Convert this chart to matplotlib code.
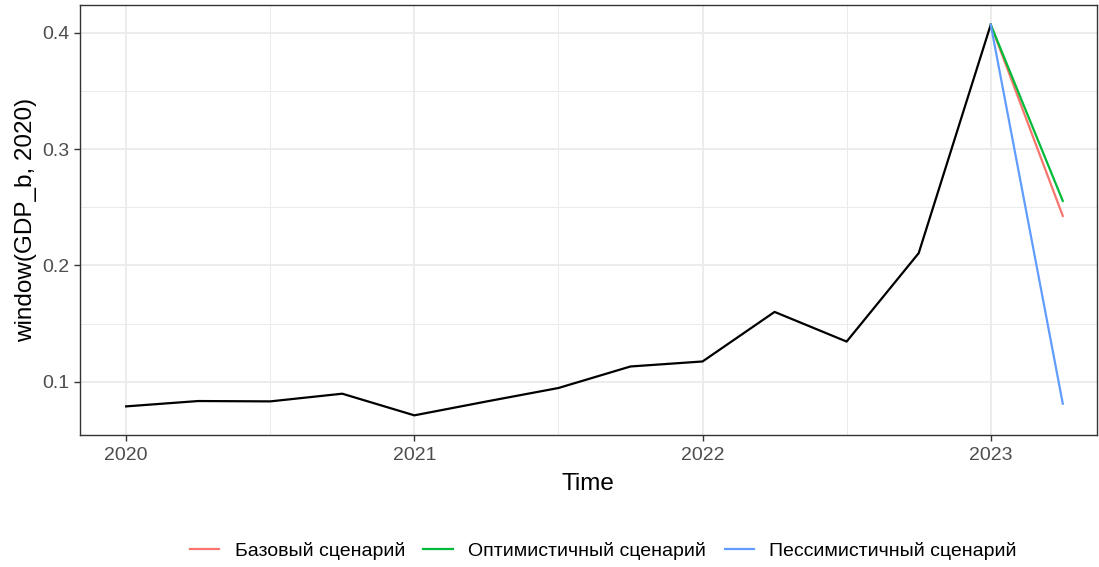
import matplotlib.pyplot as plt
from matplotlib.ticker import MultipleLocator

plt.rcParams['font.family'] = ['Liberation Sans', 'DejaVu Sans']

# observed quarterly series
time = [2020.0, 2020.25, 2020.5, 2020.75, 2021.0, 2021.25, 2021.5, 2021.75,
        2022.0, 2022.25, 2022.5, 2022.75, 2023.0]
gdp_b = [0.0788, 0.0834, 0.0831, 0.0897, 0.0711, 0.0830, 0.0946, 0.1131,
         0.1174, 0.1600, 0.1345, 0.2105, 0.4069]

# scenario forecasts from 2023.0 to 2023.25
fc_time = [2023.0, 2023.25]
base = [0.4069, 0.2425]
optim = [0.4069, 0.2554]
pessim = [0.4069, 0.0811]

names = ["Базовый сценарий", "Оптимистичный сценарий", "Пессимистичный сценарий"]
colors = ["#F8766D", "#00BA38", "#619CFF"]

fig = plt.figure(figsize=(10.99, 5.67), dpi=100)
ax = fig.add_axes([0.0728, 0.233, 0.9252, 0.758])

ax.plot(time, gdp_b, color='black', lw=1.6, zorder=3)
for ys, c, n in zip([base, optim, pessim], colors, names):
    ax.plot(fc_time, ys, color=c, lw=1.6, label=n, zorder=3)

ax.set_xlim(2019.840, 2023.368)
ax.set_ylim(0.0543, 0.4237)
ax.set_xticks([2020, 2021, 2022, 2023])
ax.xaxis.set_minor_locator(MultipleLocator(0.5))
ax.yaxis.set_minor_locator(MultipleLocator(0.05))
ax.set_yticks([0.1, 0.2, 0.3, 0.4])
ax.set_yticklabels(["0.1", "0.2", "0.3", "0.4"])

ax.grid(which='major', color='#EBEBEB', lw=1.3, zorder=0)
ax.grid(which='minor', color='#EBEBEB', lw=0.7, zorder=0)
ax.set_axisbelow(True)
for s in ax.spines.values():
    s.set_color('#333333')
    s.set_linewidth(1.0)
ax.tick_params(which='major', length=4, width=1.0, color='#333333',
               labelcolor='#4D4D4D', labelsize=14)
ax.tick_params(axis='x', which='major', pad=5)
ax.tick_params(which='minor', length=0)

ax.set_xlabel("Time", fontsize=17.5, labelpad=6)
ax.set_ylabel("window(GDP_b, 2020)", fontsize=17.5, labelpad=4)

fig.legend(loc='center', bbox_to_anchor=(0.549, 0.029), ncol=3, frameon=False,
           fontsize=14, handlelength=1.5, columnspacing=0.95, handletextpad=0.8)

fig.savefig("out.png", dpi=100)
